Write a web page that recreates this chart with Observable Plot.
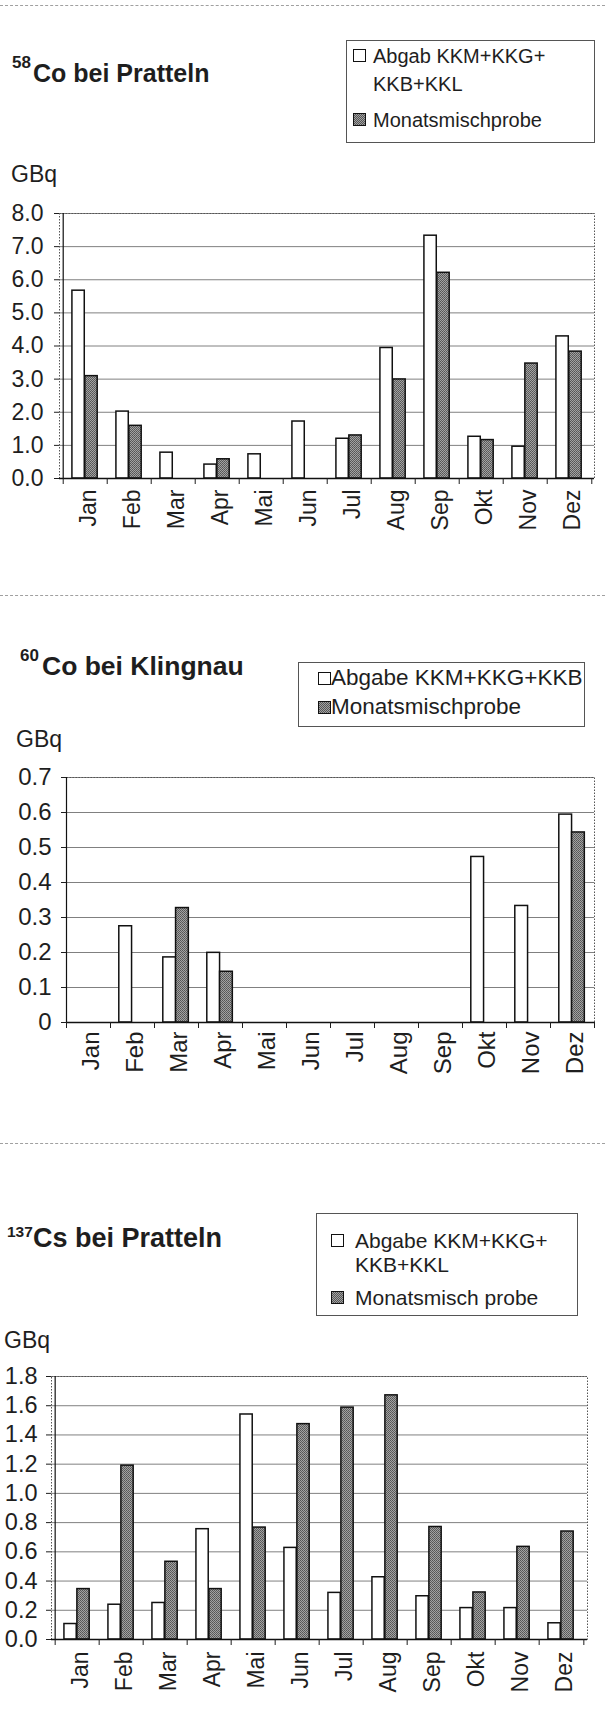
<!DOCTYPE html>
<html>
<head>
<meta charset="utf-8">
<script src="https://cdn.jsdelivr.net/npm/d3@7"></script>
<script src="https://cdn.jsdelivr.net/npm/@observablehq/plot@0.6"></script>
<style>
  body { margin: 0; background: #fff; }
  #page { position: relative; width: 605px; height: 1719px; overflow: hidden; background: #fff;
          font-family: "Liberation Sans", Arial, sans-serif; color: #1e1e1e; }
  .t { position: absolute; white-space: nowrap; line-height: 1; }
  .sep { position: absolute; left: 0; width: 605px; height: 0; border-top: 1px dashed #a0a0a0; }
  .legend { position: absolute; border: 1px solid #555; box-sizing: border-box; }
  .sw { position: absolute; width: 13px; height: 13px; border: 1px solid #111; box-sizing: border-box; }
  .sw.white { background: #fff; }
  .sw.grey { background: repeating-conic-gradient(#555 0 25%, #a2a2a2 0 50%) 0 0 / 2px 2px; }
  .chart { position: absolute; left: 0; }
</style>
</head>
<body>
<div id="page"></div>
<script>
// ---------- data ----------
const months = ["Jan","Feb","Mar","Apr","Mai","Jun","Jul","Aug","Sep","Okt","Nov","Dez"];

// 58Co bei Pratteln (GBq)
const co58Abgabe = [5.67, 2.02, 0.78, 0.42, 0.73, 1.72, 1.20, 3.94, 7.33, 1.26, 0.96, 4.29];
const co58Misch  = [3.09, 1.59, null, 0.58, null, null, 1.30, 2.99, 6.21, 1.16, 3.47, 3.83];
const co58Ticks  = [0, 1, 2, 3, 4, 5, 6, 7, 8];

// 60Co bei Klingnau (GBq)
const co60Abgabe = [null, 0.275, 0.186, 0.199, null, null, null, null, null, 0.473, 0.333, 0.594];
const co60Misch  = [null, null, 0.327, 0.145, null, null, null, null, null, null, null, 0.543];
const co60Ticks  = [0, 0.1, 0.2, 0.3, 0.4, 0.5, 0.6, 0.7];

// 137Cs bei Pratteln (GBq)
const cs137Abgabe = [0.106, 0.238, 0.250, 0.755, 1.540, 0.627, 0.319, 0.426, 0.296, 0.215, 0.215, 0.111];
const cs137Misch  = [0.345, 1.190, 0.532, 0.345, 0.766, 1.474, 1.587, 1.671, 0.770, 0.322, 0.634, 0.739];
const cs137Ticks  = [0, 0.2, 0.4, 0.6, 0.8, 1.0, 1.2, 1.4, 1.6, 1.8];

const unitLabel = "GBq";

// ---------- helpers ----------
const page = document.getElementById("page");
const FONT = '"Liberation Sans", Arial, sans-serif';

function txt(s, x, baseline, size, bold) {
  const d = document.createElement("div");
  d.className = "t";
  d.textContent = s;
  d.style.left = x + "px";
  d.style.top = (baseline - 0.8465 * size) + "px";
  d.style.fontSize = size + "px";
  if (bold) d.style.fontWeight = "bold";
  page.appendChild(d);
}
function sep(y) {
  const d = document.createElement("div");
  d.className = "sep";
  d.style.top = y + "px";
  page.appendChild(d);
}
function legendBox(x, y, w, h) {
  const d = document.createElement("div");
  d.className = "legend";
  Object.assign(d.style, {left: x + "px", top: y + "px", width: w + "px", height: h + "px"});
  page.appendChild(d);
}
function swatch(kind, x, baseline) {
  const d = document.createElement("div");
  d.className = "sw " + kind;
  d.style.left = x + "px";
  d.style.top = (baseline - 14) + "px";
  page.appendChild(d);
}

function drawChart(cfg) {
  const {top, height, mt, mb, ml, mr, ymax, ticks, fmt, abgabe, misch, pad, xpad, yfs, xfs, id} = cfg;
  const rowsA = months.map((m, i) => ({month: m, value: abgabe[i]})).filter(d => d.value != null);
  const rowsM = months.map((m, i) => ({month: m, value: misch[i]})).filter(d => d.value != null);
  const bw = (605 - ml - mr) / months.length;
  const svg = Plot.plot({
    width: 605, height,
    marginTop: mt, marginBottom: mb, marginLeft: ml, marginRight: mr,
    style: {fontFamily: FONT, fontSize: "22px", color: "#1e1e1e", background: "transparent", overflow: "visible"},
    x: {domain: months, padding: 0, label: null},
    y: {domain: [0, ymax], label: null},
    marks: [
      Plot.gridY(ticks, {stroke: "#808080", strokeOpacity: 1, strokeWidth: 1}),
      Plot.frame({stroke: "#555", strokeDasharray: "1.5 1.5"}),
      Plot.barY(rowsA, {x: "month", y: "value", fill: "#fff", stroke: "#111", strokeWidth: 1.5,
                        insetLeft: 0.2 * bw, insetRight: 0.51 * bw}),
      Plot.barY(rowsM, {x: "month", y: "value", fill: `url(#${id})`, stroke: "#111", strokeWidth: 1.5,
                        insetLeft: 0.49 * bw, insetRight: 0.22 * bw}),
      Plot.ruleY([0], {stroke: "#111", strokeWidth: 1.5}),
      Plot.ruleX([months[0]], {stroke: "#111", strokeWidth: 1.2, dx: -bw / 2}),
      Plot.axisY(ticks, {tickFormat: fmt, tickSize: 5, tickPadding: pad, fontSize: yfs}),
      Plot.axisX({tickSize: 6, tickFormat: () => "", dx: -bw / 2}),
      Plot.axisX([months[months.length - 1]], {tickSize: 6, tickFormat: () => "", dx: bw / 2}),
      Plot.axisX({tickSize: 0, tickRotate: -90, tickPadding: xpad, fontSize: xfs, dx: 3})
    ]
  });
  const ns = "http://www.w3.org/2000/svg";
  const defs = document.createElementNS(ns, "defs");
  defs.innerHTML = `<pattern id="${id}" width="2" height="2" patternUnits="userSpaceOnUse">
      <rect width="2" height="2" fill="#a2a2a2"/>
      <rect width="1" height="1" fill="#555"/>
      <rect x="1" y="1" width="1" height="1" fill="#606060"/></pattern>`;
  svg.insertBefore(defs, svg.firstChild);
  const wrap = document.createElement("div");
  wrap.className = "chart";
  wrap.style.top = top + "px";
  wrap.appendChild(svg);
  page.appendChild(wrap);
}

const f1 = d => d.toFixed(1);
const f0 = d => d === 0 ? "0" : d.toFixed(1);

// ---------- separators ----------
sep(5); sep(595); sep(1143);

// ---------- chart 1 ----------
txt("58", 12, 68, 17, true);
txt("Co bei Pratteln", 33, 82, 25, true);
legendBox(346, 40, 249, 103);
swatch("white", 353, 63);
txt("Abgab KKM+KKG+", 373, 63, 20);
txt("KKB+KKL", 373, 91, 20);
swatch("grey", 353, 127);
txt("Monatsmischprobe", 373, 127, 20);
txt(unitLabel, 11, 182, 23);
drawChart({top: 195, height: 345, mt: 18, mb: 62, ml: 59, mr: 11, ymax: 8, ticks: co58Ticks, fmt: f1,
           abgabe: co58Abgabe, misch: co58Misch, pad: 11, xpad: 11, yfs: 23, xfs: 23, id: "grain1"});

// ---------- chart 2 ----------
txt("60", 20, 661, 17, true);
txt("Co bei Klingnau", 42, 675, 26.5, true);
legendBox(298, 662, 287, 65);
swatch("white", 318, 686);
txt("Abgabe KKM+KKG+KKB", 331, 686, 22.5);
swatch("grey", 318, 715);
txt("Monatsmischprobe", 331, 715, 22.5);
txt(unitLabel, 16, 747, 23);
drawChart({top: 760, height: 322, mt: 17, mb: 60, ml: 66, mr: 11, ymax: 0.7, ticks: co60Ticks, fmt: f0,
           abgabe: co60Abgabe, misch: co60Misch, pad: 10, xpad: 9, yfs: 24, xfs: 24, id: "grain2"});

// ---------- chart 3 ----------
txt("137", 7, 1237, 15.5, true);
txt("Cs bei Pratteln", 33, 1248, 27, true);
legendBox(316, 1213, 262, 103);
swatch("white", 331, 1248);
txt("Abgabe KKM+KKG+", 355, 1248, 21);
txt("KKB+KKL", 355, 1272, 21);
swatch("grey", 331, 1305);
txt("Monatsmisch probe", 355, 1305, 21);
txt(unitLabel, 4, 1348, 23);
drawChart({top: 1358, height: 346, mt: 18, mb: 65, ml: 51, mr: 18, ymax: 1.8, ticks: cs137Ticks, fmt: f1,
           abgabe: cs137Abgabe, misch: cs137Misch, pad: 9, xpad: 12, yfs: 23.5, xfs: 23, id: "grain3"});
</script>
</body>
</html>
